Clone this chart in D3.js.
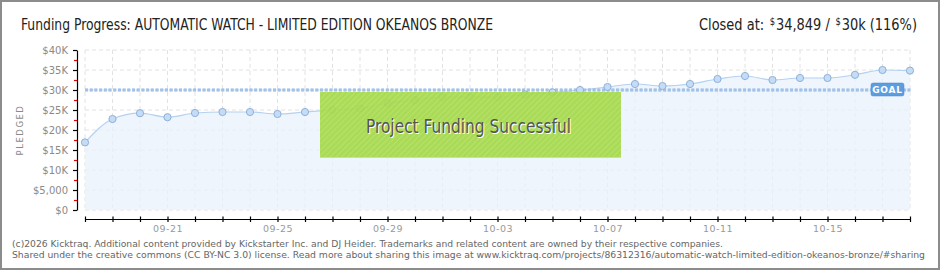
<!DOCTYPE html>
<html>
<head>
<meta charset="utf-8">
<script src="https://cdn.jsdelivr.net/npm/d3@7"></script>
<style>
    html, body { margin: 0; padding: 0; background: #fff; }
    svg { display: block; }
</style>
</head>
<body>
<div id="chart"></div>
<script>
// Days of the campaign (MM-DD)
const days = [
    "09-18", "09-19", "09-20", "09-21", "09-22", "09-23", "09-24", "09-25",
    "09-26", "09-27", "09-28", "09-29", "09-30", "10-01", "10-02", "10-03",
    "10-04", "10-05", "10-06", "10-07", "10-08", "10-09", "10-10", "10-11",
    "10-12", "10-13", "10-14", "10-15", "10-16", "10-17", "10-18"
];

// Pledged total at each day
const pledged = [
    16900, 22750, 24200, 23200, 24250, 24500, 24500, 24000,
    24500, 25000, 25400, 26750, 27500, 28200, 28200, 28200,
    28900, 29400, 30000, 30750, 31500, 31000, 31500, 32750,
    33500, 32500, 33000, 33000, 33800, 35000, 34849
];

const dayLabels  = ["09-21", "09-25", "09-29", "10-03", "10-07", "10-11", "10-15"];
const yTicks     = [0, 5000, 10000, 15000, 20000, 25000, 30000, 35000, 40000];
const yTickText  = ["$0", "$5,000", "$10K", "$15K", "$20K", "$25K", "$30K", "$35K", "$40K"];
const yMinor     = [2500, 7500, 12500, 17500, 22500, 27500, 32500, 37500];
const goal       = 30000;

const WIDTH  = 940;
const HEIGHT = 270;
const HEAD_FONT = "'DejaVu Sans Condensed', 'Liberation Sans Narrow', sans-serif";

const svg = d3.select("#chart")
    .append("svg")
    .attr("width", WIDTH)
    .attr("height", HEIGHT);

// Scales
const x = d3.scalePoint()
    .domain(days)
    .range([85, 910]);

const y = d3.scaleLinear()
    .domain([0, 40000])
    .range([210, 50]);

// Hatch pattern for the success banner
const defs = svg.append("defs");
const hatch = defs.append("pattern")
    .attr("id", "hatch")
    .attr("width", 4)
    .attr("height", 4)
    .attr("patternUnits", "userSpaceOnUse")
    .attr("patternTransform", "rotate(45)");
hatch.append("rect").attr("width", 4).attr("height", 4).attr("fill", "#a5d94b");
hatch.append("rect").attr("width", 1).attr("height", 4).attr("fill", "#b3e05e");

// Outer frame
svg.append("rect")
    .attr("x", 1)
    .attr("y", 1)
    .attr("width", WIDTH - 2)
    .attr("height", HEIGHT - 2)
    .attr("fill", "#fff")
    .attr("stroke", "#8c8c8c")
    .attr("stroke-width", 2);

// Title
svg.append("text")
    .attr("x", 21)
    .attr("y", 30)
    .attr("font-family", HEAD_FONT)
    .attr("font-size", 15.5)
    .attr("fill", "#222")
    .attr("textLength", 472)
    .attr("lengthAdjust", "spacingAndGlyphs")
    .text("Funding Progress: AUTOMATIC WATCH - LIMITED EDITION OKEANOS BRONZE");

// Closed at summary, pieces chained left to right and squeezed to fit
const last = pledged[pledged.length - 1];
const closedParts = [
    { text: "Closed at:", size: 15.5, dy: 0, gap: 6 },
    { text: "$", size: 10, dy: -5, gap: 1 },
    { text: d3.format(",")(last) + " /", size: 15.5, dy: 0, gap: 6 },
    { text: "$", size: 10, dy: -5, gap: 1 },
    { text: (goal / 1000) + "k (" + Math.round(last / goal * 100) + "%)", size: 15.5, dy: 0, gap: 0 }
];

const closedGroup = svg.append("g");
const closedText = closedGroup.selectAll("text")
    .data(closedParts)
    .enter()
    .append("text")
    .attr("y", (d) => 30 + d.dy)
    .attr("font-family", HEAD_FONT)
    .attr("font-size", (d) => d.size)
    .attr("fill", "#222")
    .text((d) => d.text);

closedText.each(function (d) { d.w = this.getComputedTextLength(); });
const closedTotal = d3.sum(closedParts, (d) => d.w + d.gap);
const squeeze     = 218 / closedTotal;
let cursor        = 699;
closedText.each(function (d) {
    d3.select(this)
        .attr("x", cursor)
        .attr("textLength", d.w * squeeze)
        .attr("lengthAdjust", "spacingAndGlyphs");
    cursor += (d.w + d.gap) * squeeze;
});

// Grid
const grid = svg.append("g")
    .attr("stroke", "#e2e2e2")
    .attr("stroke-dasharray", "4,3");

grid.selectAll("line.v")
    .data(days)
    .enter()
    .append("line")
    .attr("x1", (d) => x(d))
    .attr("x2", (d) => x(d))
    .attr("y1", y(40000))
    .attr("y2", y(0));

grid.selectAll("line.h")
    .data(yTicks)
    .enter()
    .append("line")
    .attr("x1", x.range()[0])
    .attr("x2", x.range()[1])
    .attr("y1", (d) => y(d))
    .attr("y2", (d) => y(d));

// Area + line
const area = d3.area()
    .x((d, i) => x(days[i]))
    .y0(y(0))
    .y1((d) => y(d))
    .curve(d3.curveMonotoneX);

const line = d3.line()
    .x((d, i) => x(days[i]))
    .y((d) => y(d))
    .curve(d3.curveMonotoneX);

svg.append("path")
    .datum(pledged)
    .attr("d", area)
    .attr("fill", "#e8f1fc")
    .attr("fill-opacity", 0.75);

svg.append("path")
    .datum(pledged)
    .attr("d", line)
    .attr("fill", "none")
    .attr("stroke", "#b4d1f1")
    .attr("stroke-width", 1.2);

// Goal line
svg.append("line")
    .attr("x1", x.range()[0])
    .attr("x2", x.range()[1] + 2)
    .attr("y1", y(goal))
    .attr("y2", y(goal))
    .attr("stroke", "#8db4e2")
    .attr("stroke-width", 3)
    .attr("stroke-dasharray", "3,1.7");

svg.append("line")
    .attr("x1", x.range()[0])
    .attr("x2", x.range()[1] + 2)
    .attr("y1", y(goal))
    .attr("y2", y(goal))
    .attr("stroke", "#b5d0f0")
    .attr("stroke-width", 1)
    .attr("stroke-dasharray", "3,1.7");

// Points
svg.append("g")
    .selectAll("circle")
    .data(pledged)
    .enter()
    .append("circle")
    .attr("cx", (d, i) => x(days[i]))
    .attr("cy", (d) => y(d))
    .attr("r", 3.6)
    .attr("fill", "#c4dcf6")
    .attr("stroke", "#8fb0d9")
    .attr("stroke-width", 1);

// Goal badge
const badge = svg.append("g")
    .attr("transform", "translate(" + (x.range()[1] - 39) + "," + (y(goal) - 7) + ")");
badge.append("rect")
    .attr("width", 33)
    .attr("height", 13)
    .attr("rx", 2)
    .attr("fill", "#5c9ddf")
    .attr("stroke", "#4a88c8")
    .attr("stroke-width", 0.5);
badge.append("text")
    .attr("x", 16.5)
    .attr("y", 10)
    .attr("text-anchor", "middle")
    .attr("font-family", "'DejaVu Sans', sans-serif")
    .attr("font-size", 9)
    .attr("font-weight", "bold")
    .attr("letter-spacing", 0.8)
    .attr("fill", "#fff")
    .text("GOAL");

// Y axis
const yAxis = svg.append("g")
    .attr("transform", "translate(77,0)")
    .call(
        d3.axisLeft(y)
            .tickValues(yTicks)
            .tickFormat((d, i) => yTickText[i])
            .tickSizeInner(4)
            .tickSizeOuter(0)
            .tickPadding(5)
    );
yAxis.select(".domain").attr("stroke", "#000").attr("stroke-width", 1.2);
yAxis.selectAll(".tick line").attr("stroke", "#000").attr("stroke-width", 1.2);
yAxis.selectAll("text")
    .attr("font-family", "'DejaVu Sans', sans-serif")
    .attr("font-size", 10)
    .attr("fill", "#8a8a8a");

svg.append("g")
    .attr("transform", "translate(77,0)")
    .call(
        d3.axisLeft(y)
            .tickValues(yMinor)
            .tickFormat("")
            .tickSizeInner(3)
            .tickSizeOuter(0)
    )
    .call((g) => g.select(".domain").remove())
    .selectAll(".tick line")
    .attr("stroke", "#e00000")
    .attr("stroke-width", 1.2);

// Y axis title
svg.append("text")
    .attr("transform", "translate(23,130) rotate(-90)")
    .attr("text-anchor", "middle")
    .attr("font-family", "'DejaVu Sans', sans-serif")
    .attr("font-size", 8.5)
    .attr("letter-spacing", 1.5)
    .attr("fill", "#8a8a8a")
    .text("PLEDGED");

// X axis
const xAxis = svg.append("g")
    .attr("transform", "translate(0,219)")
    .call(
        d3.axisBottom(x)
            .tickFormat((d) => dayLabels.includes(d) ? d : "")
            .tickSizeInner(3)
            .tickSizeOuter(0)
            .tickPadding(3)
    );
xAxis.select(".domain").attr("stroke", "#000").attr("stroke-width", 1.2);
xAxis.selectAll(".tick line")
    .attr("y1", -2.5)
    .attr("stroke", "#000")
    .attr("stroke-width", 1.2);
xAxis.selectAll("text")
    .attr("font-family", "'DejaVu Sans', sans-serif")
    .attr("font-size", 9.5)
    .attr("letter-spacing", 0.5)
    .attr("fill", "#999");

// Success banner
const banner = svg.append("g");
banner.append("rect")
    .attr("x", 320)
    .attr("y", 92)
    .attr("width", 301)
    .attr("height", 66)
    .attr("fill", "url(#hatch)")
    .attr("fill-opacity", 0.93);
banner.append("line")
    .attr("x1", 320)
    .attr("x2", 621)
    .attr("y1", 157.5)
    .attr("y2", 157.5)
    .attr("stroke", "#c6e58c")
    .attr("stroke-width", 1);
banner.append("text")
    .attr("x", 367)
    .attr("y", 134)
    .attr("font-family", HEAD_FONT)
    .attr("font-size", 19)
    .attr("fill", "#fff")
    .attr("textLength", 205)
    .attr("lengthAdjust", "spacingAndGlyphs")
    .text("Project Funding Successful");
banner.append("text")
    .attr("x", 366)
    .attr("y", 133)
    .attr("font-family", HEAD_FONT)
    .attr("font-size", 19)
    .attr("fill", "#555")
    .attr("textLength", 205)
    .attr("lengthAdjust", "spacingAndGlyphs")
    .text("Project Funding Successful");

// Footer
const footer = [
    "(c)2026 Kicktraq. Additional content provided by Kickstarter Inc. and DJ Heider. Trademarks and related content are owned by their respective companies.",
    "Shared under the creative commons (CC BY-NC 3.0) license. Read more about sharing this image at www.kicktraq.com/projects/86312316/automatic-watch-limited-edition-okeanos-bronze/#sharing"
];
const footerWidth = [711, 913];

svg.append("g")
    .selectAll("text")
    .data(footer)
    .enter()
    .append("text")
    .attr("x", 12)
    .attr("y", (d, i) => 247 + i * 11)
    .attr("font-family", "'DejaVu Sans Condensed', 'DejaVu Sans', sans-serif")
    .attr("font-size", 9)
    .attr("fill", "#666")
    .attr("textLength", (d, i) => footerWidth[i])
    .attr("lengthAdjust", "spacingAndGlyphs")
    .text((d) => d);
</script>
</body>
</html>
